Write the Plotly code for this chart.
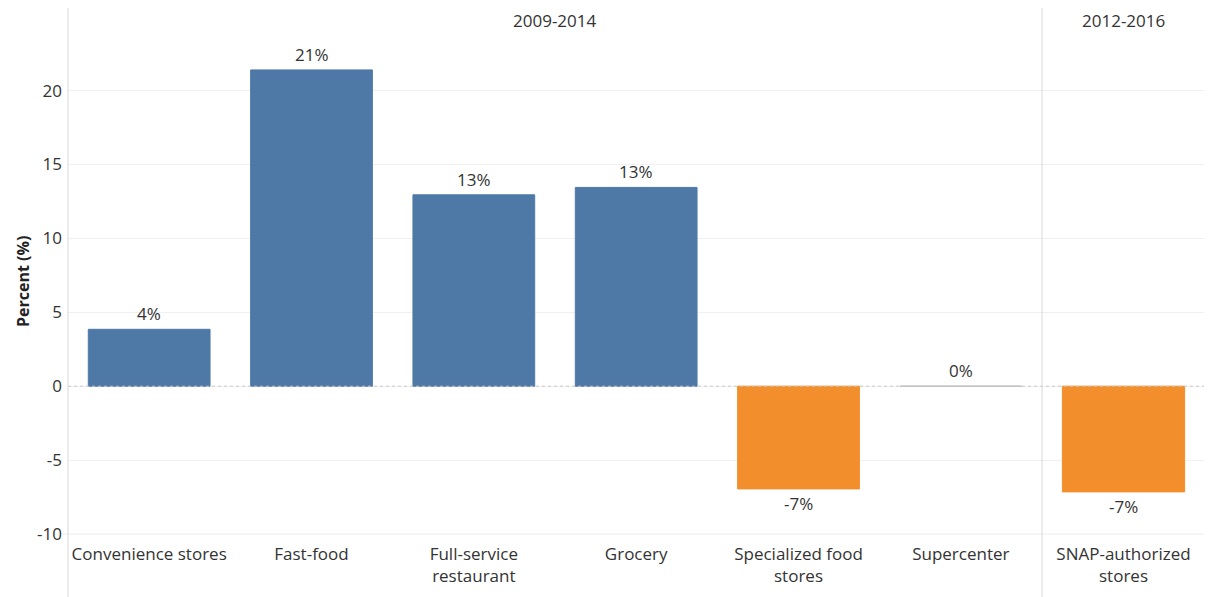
import plotly.graph_objects as go

periods = ["2009-2014", "2012-2016"]
cats_1 = ["Convenience stores", "Fast-food", "Full-service<br>restaurant", "Grocery",
          "Specialized food<br>stores", "Supercenter"]
vals_1 = [3.85, 21.4, 12.95, 13.45, -6.95, 0.0]
labels_1 = ["4%", "21%", "13%", "13%", "-7%", "0%"]
cats_2 = ["SNAP-authorized<br>stores"]
vals_2 = [-7.15]
labels_2 = ["-7%"]
y_ticks = [-10, -5, 0, 5, 10, 15, 20]
y_ticktext = ["-10", "-5", "0", "5", "10", "15", "20"]

BLUE = "#4e79a7"
ORANGE = "#f28e2b"
GRAY = "#b8b8b8"
FONT = "Open Sans"
TXT = "#333333"
FS = 17

W, H = 1204, 589
L, R, T, B = 60, 7, 22, 63
PW, PH = W - L - R, H - T - B


def colors(vals):
    return [GRAY if abs(v) < 0.5 else (BLUE if v > 0 else ORANGE) for v in vals]


fig = go.Figure()
for cats, vals, labs, xa, ya in [(cats_1, vals_1, labels_1, "x", "y"),
                                 (cats_2, vals_2, labels_2, "x2", "y2")]:
    fig.add_trace(go.Bar(x=cats, y=vals, xaxis=xa, yaxis=ya, width=0.75,
                         marker=dict(color=colors(vals), line=dict(color=colors(vals), width=1)),
                         hoverinfo="x+y", showlegend=False))
    for c, v, lab in zip(cats, vals, labs):
        neg = v < 0
        fig.add_annotation(x=c, y=v, xref=xa, yref=ya, text=lab, showarrow=False,
                           xanchor="center",
                           yanchor="top" if neg else "bottom", yshift=-1 if neg else 2,
                           font=dict(family=FONT, size=FS, color=TXT))

split = 974 / PW
yrange = [-10, 24.1]
grid = dict(showgrid=True, gridcolor="#f0f0f0", gridwidth=1, tickvals=y_ticks, ticktext=y_ticktext,
            zeroline=False, range=yrange, fixedrange=True, automargin=False)
fig.update_layout(
    width=W, height=H,
    margin=dict(l=L, r=R, t=T, b=B),
    paper_bgcolor="white", plot_bgcolor="white",
    font=dict(family=FONT, size=FS, color=TXT),
    xaxis=dict(domain=[0, split], showgrid=False, showline=False, ticks="", automargin=False,
               ticklabelstandoff=8, tickfont=dict(family=FONT, size=FS, color=TXT)),
    xaxis2=dict(domain=[split, 1], anchor="y2", showgrid=False, showline=False, ticks="", automargin=False,
                ticklabelstandoff=8, tickfont=dict(family=FONT, size=FS, color=TXT)),
    yaxis=dict(**grid, ticklabelstandoff=5, tickfont=dict(family=FONT, size=FS, color=TXT)),
    yaxis2=dict(**grid, anchor="x2", showticklabels=False),
)

# y-axis title
fig.add_annotation(text="<b>Percent (%)</b>", xref="paper", yref="paper",
                   x=(15 - L) / PW, y=0.5, textangle=-90, showarrow=False,
                   xanchor="center", yanchor="middle",
                   font=dict(family=FONT, size=16, color="#222222"))

# zero line (dotted) across both panes
fig.add_shape(type="line", xref="paper", yref="y", x0=0, x1=1, y0=0, y1=0,
              line=dict(color="#c8c8c8", width=1, dash="dot"))
# bottom border line
fig.add_shape(type="line", xref="paper", yref="paper", x0=-0.005, x1=1, y0=0, y1=0,
              line=dict(color="#ececec", width=1))
# vertical pane borders
for xp in [0, split, 1]:
    fig.add_shape(type="line", xref="paper", yref="paper", x0=xp, x1=xp, y0=-B / PH, y1=1 + T / PH,
                  line=dict(color="#d9d9d9", width=1))

# header labels
for text, xc in [(periods[0], split / 2), (periods[1], (split + 1) / 2)]:
    fig.add_annotation(text=text, xref="paper", yref="paper", x=xc, y=1 + T / PH,
                       xanchor="center", yanchor="top", showarrow=False, borderpad=0,
                       font=dict(family=FONT, size=17, color=TXT))

fig.write_html("out.html")
